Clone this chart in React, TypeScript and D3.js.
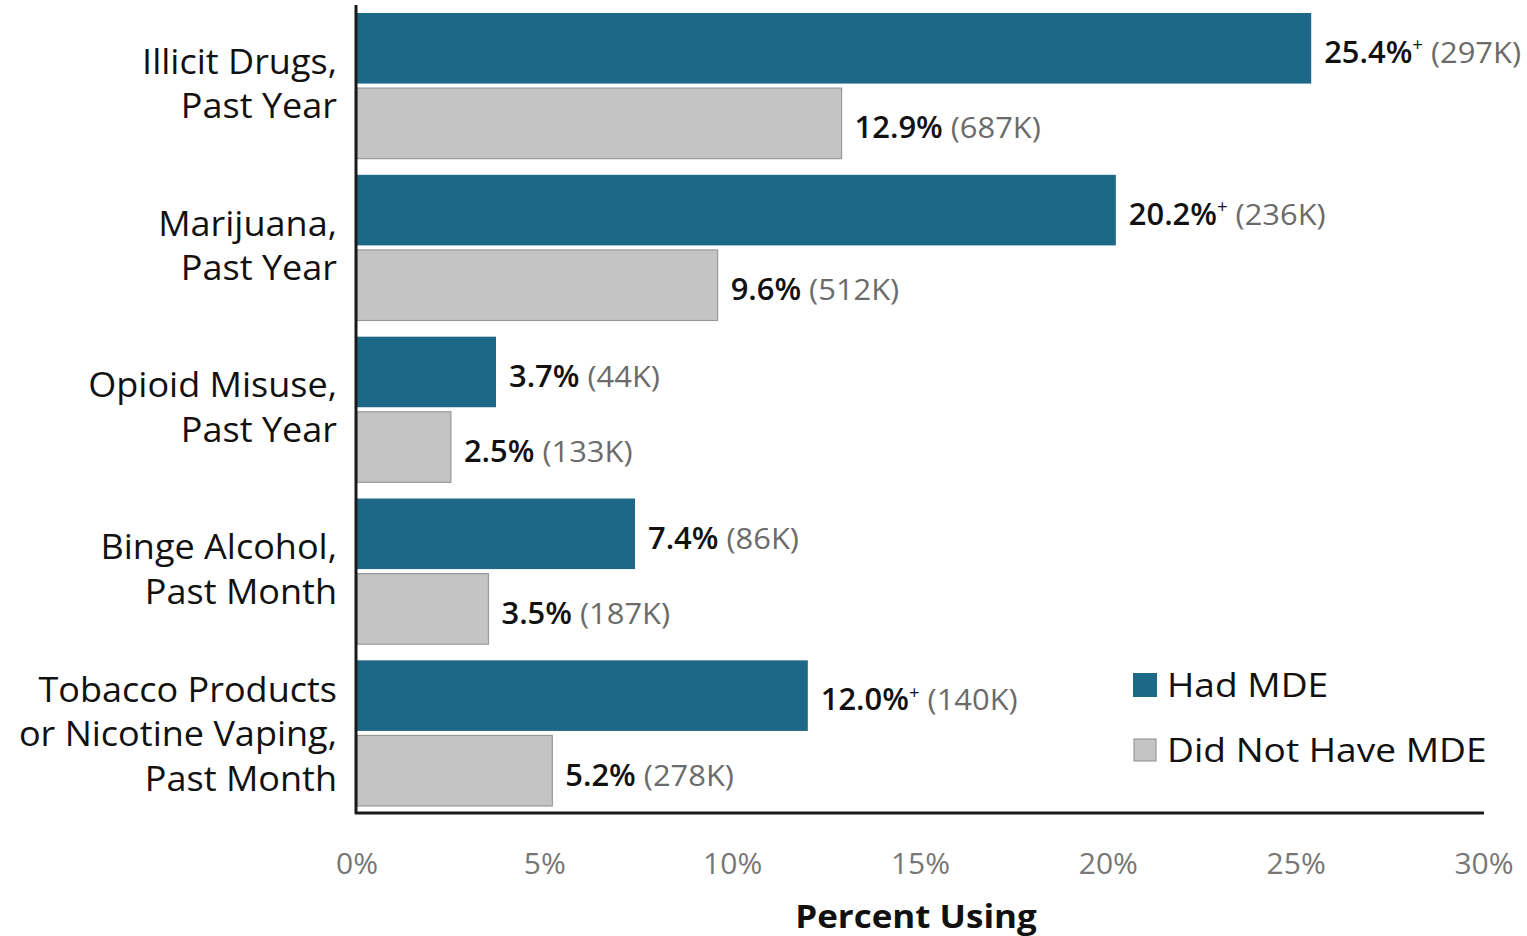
import React from "react";
import * as d3 from "d3";

const categories = [
  ["Illicit Drugs,", "Past Year"],
  ["Marijuana,", "Past Year"],
  ["Opioid Misuse,", "Past Year"],
  ["Binge Alcohol,", "Past Month"],
  ["Tobacco Products", "or Nicotine Vaping,", "Past Month"],
];
const categoryKeys = ["illicit", "marijuana", "opioid", "binge", "tobacco"];
const series = ["Had MDE", "Did Not Have MDE"];
const hadMDE = [25.4, 20.2, 3.7, 7.4, 12.0];
const hadMDECounts = ["297K", "236K", "44K", "86K", "140K"];
const hadMDESig = [true, true, false, false, true];
const noMDE = [12.9, 9.6, 2.5, 3.5, 5.2];
const noMDECounts = ["687K", "512K", "133K", "187K", "278K"];
const ticks = [0, 5, 10, 15, 20, 25, 30];

const W = 1527;
const H = 936;
const FONT = "'Open Sans', 'Noto Sans', sans-serif";
const COLORS = ["#1c6886", "#c4c4c4"];

function SText(props: any) {
  const { x, y, sx = 1, children, ...rest } = props;
  return (
    <g transform={`translate(${x},${y}) scale(${sx},1)`}>
      <text x={0} y={0} dominantBaseline="central" {...rest}>
        {children}
      </text>
    </g>
  );
}

export default function App() {
  const x = d3.scaleLinear().domain([0, 30]).range([357, 1484]);
  const y = d3.scaleBand<string>().domain(categoryKeys).range([13, 806]).paddingInner(0.1).paddingOuter(0);
  const yi = d3.scaleBand<string>().domain(series).range([0, y.bandwidth()]).paddingInner(0.06);

  const rows = categoryKeys.map((k, i) => ({
    key: k,
    label: categories[i],
    bars: [
      { s: series[0], v: hadMDE[i], c: hadMDECounts[i], sig: hadMDESig[i] },
      { s: series[1], v: noMDE[i], c: noMDECounts[i], sig: false },
    ],
  }));

  return (
    <svg width={W} height={H} style={{ position: "absolute", left: 0, top: 0, background: "#fff" }} fontFamily={FONT}>
      {rows.map((r) => {
        const gy = y(r.key)!;
        const n = r.label.length;
        const cy = gy + y.bandwidth() / 2 + (n === 2 ? -3 : 0);
        const lh = 44.5;
        return (
          <g key={r.key}>
            {r.bars.map((b, j) => {
              const by = gy + yi(b.s)!;
              const bh = yi.bandwidth();
              return (
                <g key={b.s}>
                  <rect
                    x={x(0)}
                    y={by}
                    width={x(b.v) - x(0)}
                    height={bh}
                    fill={COLORS[j]}
                    stroke={j === 1 ? "#9a9a9a" : "none"}
                    strokeWidth={1.2}
                  />
                  <SText x={x(b.v) + 13} y={by + bh / 2 + 3} sx={1.03} fontSize={30}>
                    <tspan fontWeight={600} fill="#111">{b.v.toFixed(1) + "%"}</tspan>
                    {b.sig ? (
                      <tspan fill="#111" fontSize={18} dy={-8}>+</tspan>
                    ) : null}
                    <tspan fill="#6b6b6b" dy={b.sig ? 8 : 0}>{" (" + b.c + ")"}</tspan>
                  </SText>
                </g>
              );
            })}
            {r.label.map((t, li) => (
              <SText
                key={li}
                x={337}
                y={cy + (li - (n - 1) / 2) * lh}
                sx={1.06}
                textAnchor="end"
                fontSize={34}
                fontWeight={500}
                fill="#111"
              >
                {t}
              </SText>
            ))}
          </g>
        );
      })}
      <line x1={356} x2={356} y1={5} y2={814} stroke="#1a1a1a" strokeWidth={3} />
      <line x1={355} x2={1484} y1={813} y2={813} stroke="#1a1a1a" strokeWidth={3} />
      {ticks.map((t) => (
        <SText key={t} x={x(t)} y={862} textAnchor="middle" fontSize={30} fill="#777">
          {t + "%"}
        </SText>
      ))}
      <SText x={916} y={915} sx={1.06} textAnchor="middle" fontSize={33} fontWeight="bold" fill="#111">
        Percent Using
      </SText>
      <rect x={1133} y={673} width={24} height={24} fill={COLORS[0]} />
      <SText x={1167} y={685} sx={1.16} fontSize={32} fontWeight={500} fill="#111">{series[0]}</SText>
      <rect x={1134} y={739} width={22} height={22} fill={COLORS[1]} stroke="#9a9a9a" strokeWidth={1.2} />
      <SText x={1167} y={750} sx={1.16} fontSize={32} fontWeight={500} fill="#111">{series[1]}</SText>
    </svg>
  );
}
